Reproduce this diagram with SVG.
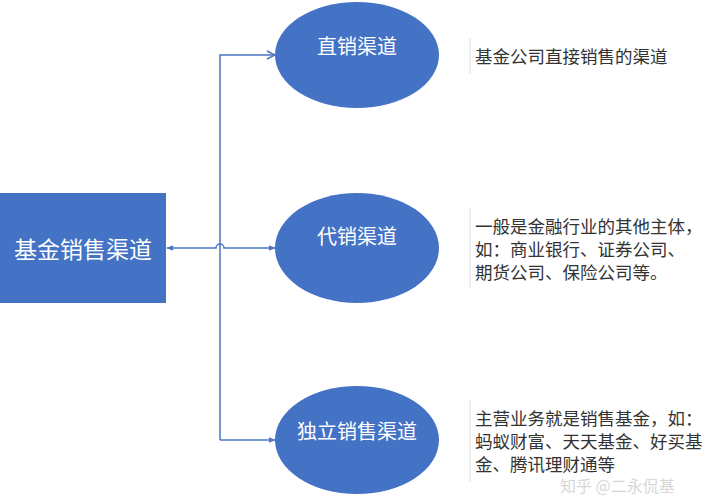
<svg xmlns="http://www.w3.org/2000/svg" width="720" height="496" viewBox="0 0 720 496">
<defs>
<style>
.node{fill:#4472C4;}
.lbl{fill:#ffffff;font-family:"Noto Sans CJK SC","Liberation Serif",serif;text-anchor:middle;dominant-baseline:central;}
.desc{fill:#333333;font-family:"Noto Sans CJK SC","Liberation Serif",serif;font-size:17.5px;dominant-baseline:central;}
.conn{fill:none;stroke:#4A76C2;stroke-width:1.5;}
.bar{stroke:#dddddd;stroke-width:1;}
</style>
<marker id="tri" viewBox="0 0 10 10" refX="9" refY="5" markerWidth="7" markerHeight="7" orient="auto-start-reverse" markerUnits="userSpaceOnUse">
<path d="M0,1 L10,5 L0,9 z" fill="#4A76C2"/>
</marker>
<marker id="open" viewBox="0 0 10 10" refX="9" refY="5" markerWidth="10" markerHeight="10" orient="auto" markerUnits="userSpaceOnUse">
<path d="M1,1 L9,5 L1,9" fill="none" stroke="#4A76C2" stroke-width="1.5"/>
</marker>
</defs>
<rect width="720" height="496" fill="#ffffff"/>
<g id="connectors">
<path class="conn" d="M220,440 L220,55 L275,55" marker-end="url(#open)"/>
<path class="conn" d="M220,440 L275,440" marker-end="url(#tri)"/>
<path class="conn" d="M167,248 L216,248 A4,4 0 0 1 224,248 L275,248" marker-start="url(#tri)" marker-end="url(#tri)"/>
</g>
<g id="root">
<rect class="node" x="0" y="193" width="166" height="110"/>
<text class="lbl" x="83" y="248" font-size="23">基金销售渠道</text>
</g>
<g id="direct">
<ellipse class="node" cx="357" cy="55" rx="82" ry="53"/>
<text class="lbl" x="357" y="45" font-size="20">直销渠道</text>
</g>
<g id="agent">
<ellipse class="node" cx="357" cy="248" rx="82" ry="55"/>
<text class="lbl" x="357" y="235" font-size="20">代销渠道</text>
</g>
<g id="independent">
<ellipse class="node" cx="357" cy="440" rx="82" ry="54"/>
<text class="lbl" x="357" y="430" font-size="20">独立销售渠道</text>
</g>
<g id="note-direct">
<line class="bar" x1="470" y1="38" x2="470" y2="74"/>
<text class="desc" x="475" y="55">基金公司直接销售的渠道</text>
</g>
<g id="note-agent">
<line class="bar" x1="470" y1="208" x2="470" y2="288"/>
<text class="desc" x="475" y="225">一般是金融行业的其他主体，</text>
<text class="desc" x="475" y="248">如：商业银行、证券公司、</text>
<text class="desc" x="475" y="271">期货公司、保险公司等。</text>
</g>
<g id="note-independent">
<line class="bar" x1="470" y1="400" x2="470" y2="482"/>
<text class="desc" x="475" y="417">主营业务就是销售基金，如：</text>
<text class="desc" x="475" y="440">蚂蚁财富、天天基金、好买基</text>
<text class="desc" x="475" y="463">金、腾讯理财通等</text>
</g>
<text x="560" y="485" font-family="Noto Sans CJK SC,Liberation Sans,sans-serif" font-size="16" fill="#cccccc" fill-opacity="0.8" dominant-baseline="central">知乎 @二永侃基</text>
</svg>
